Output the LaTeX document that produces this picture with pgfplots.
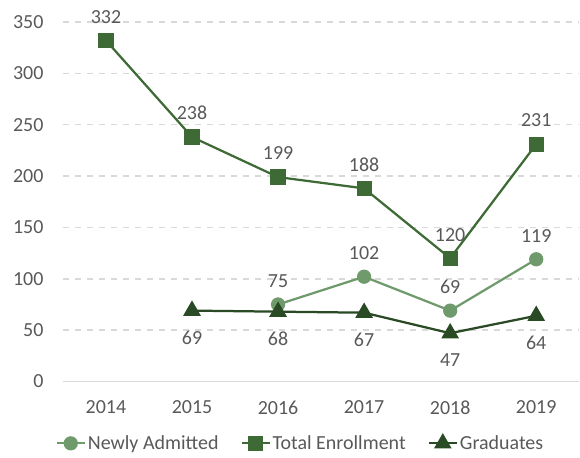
\documentclass[border=0pt]{standalone}
\usepackage{fontspec}
\setmainfont{Carlito}
\usepackage{pgfplots}
\pgfplotsset{compat=1.18}
\definecolor{txt}{HTML}{595959}
\definecolor{gridc}{HTML}{D9D9D9}
\definecolor{totc}{HTML}{3E6A35}
\definecolor{newc}{HTML}{6F9A6C}
\definecolor{grac}{HTML}{2A4A25}
\begin{document}
\begin{tikzpicture}[x=1bp,y=1bp]
\begin{axis}[
  scale only axis,
  width=517bp, height=360bp,
  xmin=-0.5, xmax=5.5, ymin=0, ymax=350,
  xtick={0,1,2,3,4,5},
  xticklabels={2014,2015,2016,2017,2018,2019},
  ytick={0,50,100,150,200,250,300,350},
  /pgf/number format/assume math mode=true,
  font=\fontsize{20bp}{24bp}\selectfont,
  tick label style={text=txt, font=\fontsize{20bp}{24bp}\selectfont},
  major tick length=0pt,
  yticklabel style={xshift=-16bp},
  xticklabel style={yshift=-16bp},
  axis lines*=left,
  y axis line style={draw=none},
  x axis line style={draw=gridc, line width=1.5bp},
  ymajorgrids,
  grid style={draw=gridc, line width=1.5bp, dash pattern=on 6bp off 6bp},
  every axis plot/.append style={line width=2.25bp},
  legend columns=3,
  legend style={draw=none, fill=none, at={(0.46,-0.172)}, anchor=center,
    font=\fontsize{20bp}{24bp}\selectfont, text=txt,
    /tikz/every even column/.append style={column sep=20bp},
    cells={anchor=west}},
  legend image code/.code={\draw[mark repeat=2,mark phase=2,#1] plot coordinates {(0bp,0bp)(14bp,0bp)(28bp,0bp)};},
  nodes near coords,
  every node near coord/.append style={text=txt, font=\fontsize{20bp}{24bp}\selectfont, inner sep=0pt},
]
\addplot[color=newc, mark=*, mark size=6bp, mark options={fill=newc, draw=newc},
  nodes near coords style={anchor=south, yshift=16bp}]
  coordinates {(2,75) (3,102) (4,69) (5,119)};
\addlegendentry{Newly Admitted}
\addplot[color=totc, mark=square*, mark size=6.5bp, mark options={fill=totc, draw=totc},
  nodes near coords style={anchor=south, yshift=16bp}]
  coordinates {(0,332) (1,238) (2,199) (3,188) (4,120) (5,231)};
\addlegendentry{Total Enrollment}
\addplot[color=grac, mark=triangle*, mark size=8bp, mark options={fill=grac, draw=grac},
  nodes near coords style={anchor=north, yshift=-19bp}]
  coordinates {(1,69) (2,68) (3,67) (4,47) (5,64)};
\addlegendentry{Graduates}
\end{axis}
\path (current axis.south west) ++(-63bp,-76bp) coordinate (bbA);
\path (current axis.north east) ++(0bp,22bp) coordinate (bbB);
\path (bbA) rectangle (bbB);
\end{tikzpicture}
\end{document}
